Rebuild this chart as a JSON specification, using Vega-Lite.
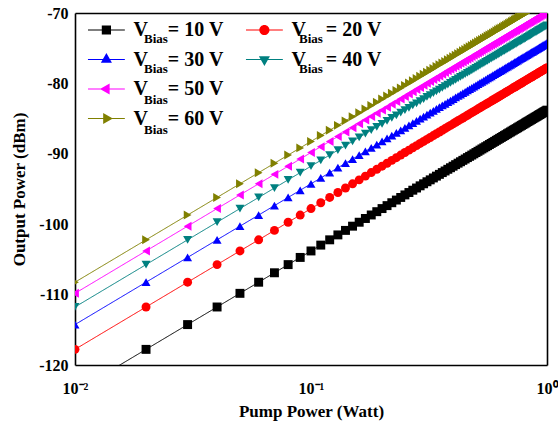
{
  "$schema": "https://vega.github.io/schema/vega-lite/v6.json",
  "width": 472,
  "height": 352,
  "autosize": {"type": "none"},
  "padding": {"left": 75, "top": 13, "right": 11, "bottom": 61},
  "background": "white",
  "config": {
    "view": {"stroke": null},
    "font": "Liberation Serif",
    "axis": {
      "domainColor": "black", "domainWidth": 1.6,
      "tickColor": "black", "tickWidth": 1.5, "tickSize": 0,
      "labelColor": "black", "labelFont": "Liberation Serif", "labelFontWeight": "bold", "labelFontSize": 16,
      "titleColor": "black", "titleFont": "Liberation Serif", "titleFontWeight": "bold", "titleFontSize": 17,
      "grid": false, "labelFlush": false, "labelOverlap": false
    },
    "legend": {"labelColor": "black", "labelFont": "Liberation Serif", "labelFontWeight": "bold", "padding": 0, "title": null, "labelLimit": 0, "direction": "horizontal"}
  },
  "data": {"values": [
    {"P":0.01,"10 V":-123.8,"20 V":-117.78,"30 V":-114.26,"40 V":-111.76,"50 V":-109.82,"60 V":-108.24},
    {"P":0.02,"10 V":-117.78,"20 V":-111.76,"30 V":-108.24,"40 V":-105.74,"50 V":-103.8,"60 V":-102.22},
    {"P":0.03,"10 V":-114.26,"20 V":-108.24,"30 V":-104.72,"40 V":-102.22,"50 V":-100.28,"60 V":-98.7},
    {"P":0.04,"10 V":-111.76,"20 V":-105.74,"30 V":-102.22,"40 V":-99.72,"50 V":-97.78,"60 V":-96.2},
    {"P":0.05,"10 V":-109.82,"20 V":-103.8,"30 V":-100.28,"40 V":-97.78,"50 V":-95.84,"60 V":-94.26},
    {"P":0.06,"10 V":-108.24,"20 V":-102.22,"30 V":-98.7,"40 V":-96.2,"50 V":-94.26,"60 V":-92.68},
    {"P":0.07,"10 V":-106.9,"20 V":-100.88,"30 V":-97.36,"40 V":-94.86,"50 V":-92.92,"60 V":-91.34},
    {"P":0.08,"10 V":-105.74,"20 V":-99.72,"30 V":-96.2,"40 V":-93.7,"50 V":-91.76,"60 V":-90.18},
    {"P":0.09,"10 V":-104.72,"20 V":-98.7,"30 V":-95.18,"40 V":-92.68,"50 V":-90.74,"60 V":-89.16},
    {"P":0.10,"10 V":-103.8,"20 V":-97.78,"30 V":-94.26,"40 V":-91.76,"50 V":-89.82,"60 V":-88.24},
    {"P":0.11,"10 V":-102.97,"20 V":-96.95,"30 V":-93.43,"40 V":-90.93,"50 V":-88.99,"60 V":-87.41},
    {"P":0.12,"10 V":-102.22,"20 V":-96.2,"30 V":-92.68,"40 V":-90.18,"50 V":-88.24,"60 V":-86.66},
    {"P":0.13,"10 V":-101.52,"20 V":-95.5,"30 V":-91.98,"40 V":-89.48,"50 V":-87.54,"60 V":-85.96},
    {"P":0.14,"10 V":-100.88,"20 V":-94.86,"30 V":-91.34,"40 V":-88.84,"50 V":-86.9,"60 V":-85.32},
    {"P":0.15,"10 V":-100.28,"20 V":-94.26,"30 V":-90.74,"40 V":-88.24,"50 V":-86.3,"60 V":-84.72},
    {"P":0.16,"10 V":-99.72,"20 V":-93.7,"30 V":-90.18,"40 V":-87.68,"50 V":-85.74,"60 V":-84.16},
    {"P":0.17,"10 V":-99.19,"20 V":-93.17,"30 V":-89.65,"40 V":-87.15,"50 V":-85.21,"60 V":-83.63},
    {"P":0.18,"10 V":-98.69,"20 V":-92.67,"30 V":-89.15,"40 V":-86.65,"50 V":-84.71,"60 V":-83.13},
    {"P":0.19,"10 V":-98.22,"20 V":-92.2,"30 V":-88.68,"40 V":-86.18,"50 V":-84.24,"60 V":-82.66},
    {"P":0.20,"10 V":-97.78,"20 V":-91.76,"30 V":-88.24,"40 V":-85.74,"50 V":-83.8,"60 V":-82.22},
    {"P":0.21,"10 V":-97.36,"20 V":-91.34,"30 V":-87.82,"40 V":-85.32,"50 V":-83.38,"60 V":-81.8},
    {"P":0.22,"10 V":-96.95,"20 V":-90.93,"30 V":-87.41,"40 V":-84.91,"50 V":-82.97,"60 V":-81.39},
    {"P":0.23,"10 V":-96.57,"20 V":-90.55,"30 V":-87.03,"40 V":-84.53,"50 V":-82.59,"60 V":-81.01},
    {"P":0.24,"10 V":-96.2,"20 V":-90.18,"30 V":-86.66,"40 V":-84.16,"50 V":-82.22,"60 V":-80.64},
    {"P":0.25,"10 V":-95.84,"20 V":-89.82,"30 V":-86.3,"40 V":-83.8,"50 V":-81.86,"60 V":-80.28},
    {"P":0.26,"10 V":-95.5,"20 V":-89.48,"30 V":-85.96,"40 V":-83.46,"50 V":-81.52,"60 V":-79.94},
    {"P":0.27,"10 V":-95.17,"20 V":-89.15,"30 V":-85.63,"40 V":-83.13,"50 V":-81.19,"60 V":-79.61},
    {"P":0.28,"10 V":-94.86,"20 V":-88.84,"30 V":-85.32,"40 V":-82.82,"50 V":-80.88,"60 V":-79.3},
    {"P":0.29,"10 V":-94.55,"20 V":-88.53,"30 V":-85.01,"40 V":-82.51,"50 V":-80.57,"60 V":-78.99},
    {"P":0.30,"10 V":-94.26,"20 V":-88.24,"30 V":-84.72,"40 V":-82.22,"50 V":-80.28,"60 V":-78.7},
    {"P":0.31,"10 V":-93.97,"20 V":-87.95,"30 V":-84.43,"40 V":-81.93,"50 V":-79.99,"60 V":-78.41},
    {"P":0.32,"10 V":-93.7,"20 V":-87.68,"30 V":-84.16,"40 V":-81.66,"50 V":-79.72,"60 V":-78.14},
    {"P":0.33,"10 V":-93.43,"20 V":-87.41,"30 V":-83.89,"40 V":-81.39,"50 V":-79.45,"60 V":-77.87},
    {"P":0.34,"10 V":-93.17,"20 V":-87.15,"30 V":-83.63,"40 V":-81.13,"50 V":-79.19,"60 V":-77.61},
    {"P":0.35,"10 V":-92.92,"20 V":-86.9,"30 V":-83.38,"40 V":-80.88,"50 V":-78.94,"60 V":-77.36},
    {"P":0.36,"10 V":-92.67,"20 V":-86.65,"30 V":-83.13,"40 V":-80.63,"50 V":-78.69,"60 V":-77.11},
    {"P":0.37,"10 V":-92.44,"20 V":-86.42,"30 V":-82.9,"40 V":-80.4,"50 V":-78.46,"60 V":-76.88},
    {"P":0.38,"10 V":-92.2,"20 V":-86.18,"30 V":-82.66,"40 V":-80.16,"50 V":-78.22,"60 V":-76.64},
    {"P":0.39,"10 V":-91.98,"20 V":-85.96,"30 V":-82.44,"40 V":-79.94,"50 V":-78.0,"60 V":-76.42},
    {"P":0.40,"10 V":-91.76,"20 V":-85.74,"30 V":-82.22,"40 V":-79.72,"50 V":-77.78,"60 V":-76.2},
    {"P":0.41,"10 V":-91.54,"20 V":-85.52,"30 V":-82.0,"40 V":-79.5,"50 V":-77.56,"60 V":-75.98},
    {"P":0.42,"10 V":-91.33,"20 V":-85.31,"30 V":-81.79,"40 V":-79.29,"50 V":-77.35,"60 V":-75.77},
    {"P":0.43,"10 V":-91.13,"20 V":-85.11,"30 V":-81.59,"40 V":-79.09,"50 V":-77.15,"60 V":-75.57},
    {"P":0.44,"10 V":-90.93,"20 V":-84.91,"30 V":-81.39,"40 V":-78.89,"50 V":-76.95,"60 V":-75.37},
    {"P":0.45,"10 V":-90.74,"20 V":-84.72,"30 V":-81.2,"40 V":-78.7,"50 V":-76.76,"60 V":-75.18},
    {"P":0.46,"10 V":-90.54,"20 V":-84.52,"30 V":-81.0,"40 V":-78.5,"50 V":-76.56,"60 V":-74.98},
    {"P":0.47,"10 V":-90.36,"20 V":-84.34,"30 V":-80.82,"40 V":-78.32,"50 V":-76.38,"60 V":-74.8},
    {"P":0.48,"10 V":-90.18,"20 V":-84.16,"30 V":-80.64,"40 V":-78.14,"50 V":-76.2,"60 V":-74.62},
    {"P":0.49,"10 V":-90.0,"20 V":-83.98,"30 V":-80.46,"40 V":-77.96,"50 V":-76.02,"60 V":-74.44},
    {"P":0.50,"10 V":-89.82,"20 V":-83.8,"30 V":-80.28,"40 V":-77.78,"50 V":-75.84,"60 V":-74.26},
    {"P":0.51,"10 V":-89.65,"20 V":-83.63,"30 V":-80.11,"40 V":-77.61,"50 V":-75.67,"60 V":-74.09},
    {"P":0.52,"10 V":-89.48,"20 V":-83.46,"30 V":-79.94,"40 V":-77.44,"50 V":-75.5,"60 V":-73.92},
    {"P":0.53,"10 V":-89.31,"20 V":-83.29,"30 V":-79.77,"40 V":-77.27,"50 V":-75.33,"60 V":-73.75},
    {"P":0.54,"10 V":-89.15,"20 V":-83.13,"30 V":-79.61,"40 V":-77.11,"50 V":-75.17,"60 V":-73.59},
    {"P":0.55,"10 V":-88.99,"20 V":-82.97,"30 V":-79.45,"40 V":-76.95,"50 V":-75.01,"60 V":-73.43},
    {"P":0.56,"10 V":-88.84,"20 V":-82.82,"30 V":-79.3,"40 V":-76.8,"50 V":-74.86,"60 V":-73.28},
    {"P":0.57,"10 V":-88.68,"20 V":-82.66,"30 V":-79.14,"40 V":-76.64,"50 V":-74.7,"60 V":-73.12},
    {"P":0.58,"10 V":-88.53,"20 V":-82.51,"30 V":-78.99,"40 V":-76.49,"50 V":-74.55,"60 V":-72.97},
    {"P":0.59,"10 V":-88.38,"20 V":-82.36,"30 V":-78.84,"40 V":-76.34,"50 V":-74.4,"60 V":-72.82},
    {"P":0.60,"10 V":-88.24,"20 V":-82.22,"30 V":-78.7,"40 V":-76.2,"50 V":-74.26,"60 V":-72.68},
    {"P":0.61,"10 V":-88.09,"20 V":-82.07,"30 V":-78.55,"40 V":-76.05,"50 V":-74.11,"60 V":-72.53},
    {"P":0.62,"10 V":-87.95,"20 V":-81.93,"30 V":-78.41,"40 V":-75.91,"50 V":-73.97,"60 V":-72.39},
    {"P":0.63,"10 V":-87.81,"20 V":-81.79,"30 V":-78.27,"40 V":-75.77,"50 V":-73.83,"60 V":-72.25},
    {"P":0.64,"10 V":-87.68,"20 V":-81.66,"30 V":-78.14,"40 V":-75.64,"50 V":-73.7,"60 V":-72.12},
    {"P":0.65,"10 V":-87.54,"20 V":-81.52,"30 V":-78.0,"40 V":-75.5,"50 V":-73.56,"60 V":-71.98},
    {"P":0.66,"10 V":-87.41,"20 V":-81.39,"30 V":-77.87,"40 V":-75.37,"50 V":-73.43,"60 V":-71.85},
    {"P":0.67,"10 V":-87.28,"20 V":-81.26,"30 V":-77.74,"40 V":-75.24,"50 V":-73.3,"60 V":-71.72},
    {"P":0.68,"10 V":-87.15,"20 V":-81.13,"30 V":-77.61,"40 V":-75.11,"50 V":-73.17,"60 V":-71.59},
    {"P":0.69,"10 V":-87.02,"20 V":-81.0,"30 V":-77.48,"40 V":-74.98,"50 V":-73.04,"60 V":-71.46},
    {"P":0.70,"10 V":-86.9,"20 V":-80.88,"30 V":-77.36,"40 V":-74.86,"50 V":-72.92,"60 V":-71.34},
    {"P":0.71,"10 V":-86.77,"20 V":-80.75,"30 V":-77.23,"40 V":-74.73,"50 V":-72.79,"60 V":-71.21},
    {"P":0.72,"10 V":-86.65,"20 V":-80.63,"30 V":-77.11,"40 V":-74.61,"50 V":-72.67,"60 V":-71.09},
    {"P":0.73,"10 V":-86.53,"20 V":-80.51,"30 V":-76.99,"40 V":-74.49,"50 V":-72.55,"60 V":-70.97},
    {"P":0.74,"10 V":-86.42,"20 V":-80.4,"30 V":-76.88,"40 V":-74.38,"50 V":-72.44,"60 V":-70.86},
    {"P":0.75,"10 V":-86.3,"20 V":-80.28,"30 V":-76.76,"40 V":-74.26,"50 V":-72.32,"60 V":-70.74},
    {"P":0.76,"10 V":-86.18,"20 V":-80.16,"30 V":-76.64,"40 V":-74.14,"50 V":-72.2,"60 V":-70.62},
    {"P":0.77,"10 V":-86.07,"20 V":-80.05,"30 V":-76.53,"40 V":-74.03,"50 V":-72.09,"60 V":-70.51},
    {"P":0.78,"10 V":-85.96,"20 V":-79.94,"30 V":-76.42,"40 V":-73.92,"50 V":-71.98,"60 V":-70.4},
    {"P":0.79,"10 V":-85.85,"20 V":-79.83,"30 V":-76.31,"40 V":-73.81,"50 V":-71.87,"60 V":-70.29},
    {"P":0.80,"10 V":-85.74,"20 V":-79.72,"30 V":-76.2,"40 V":-73.7,"50 V":-71.76,"60 V":-70.18},
    {"P":0.81,"10 V":-85.63,"20 V":-79.61,"30 V":-76.09,"40 V":-73.59,"50 V":-71.65,"60 V":-70.07},
    {"P":0.82,"10 V":-85.52,"20 V":-79.5,"30 V":-75.98,"40 V":-73.48,"50 V":-71.54,"60 V":-69.96},
    {"P":0.83,"10 V":-85.42,"20 V":-79.4,"30 V":-75.88,"40 V":-73.38,"50 V":-71.44,"60 V":-69.86},
    {"P":0.84,"10 V":-85.31,"20 V":-79.29,"30 V":-75.77,"40 V":-73.27,"50 V":-71.33,"60 V":-69.75},
    {"P":0.85,"10 V":-85.21,"20 V":-79.19,"30 V":-75.67,"40 V":-73.17,"50 V":-71.23,"60 V":-69.65},
    {"P":0.86,"10 V":-85.11,"20 V":-79.09,"30 V":-75.57,"40 V":-73.07,"50 V":-71.13,"60 V":-69.55},
    {"P":0.87,"10 V":-85.01,"20 V":-78.99,"30 V":-75.47,"40 V":-72.97,"50 V":-71.03,"60 V":-69.45},
    {"P":0.88,"10 V":-84.91,"20 V":-78.89,"30 V":-75.37,"40 V":-72.87,"50 V":-70.93,"60 V":-69.35},
    {"P":0.89,"10 V":-84.81,"20 V":-78.79,"30 V":-75.27,"40 V":-72.77,"50 V":-70.83,"60 V":-69.25},
    {"P":0.90,"10 V":-84.72,"20 V":-78.7,"30 V":-75.18,"40 V":-72.68,"50 V":-70.74,"60 V":-69.16},
    {"P":0.91,"10 V":-84.62,"20 V":-78.6,"30 V":-75.08,"40 V":-72.58,"50 V":-70.64,"60 V":-69.06},
    {"P":0.92,"10 V":-84.52,"20 V":-78.5,"30 V":-74.98,"40 V":-72.48,"50 V":-70.54,"60 V":-68.96},
    {"P":0.93,"10 V":-84.43,"20 V":-78.41,"30 V":-74.89,"40 V":-72.39,"50 V":-70.45,"60 V":-68.87},
    {"P":0.94,"10 V":-84.34,"20 V":-78.32,"30 V":-74.8,"40 V":-72.3,"50 V":-70.36,"60 V":-68.78},
    {"P":0.95,"10 V":-84.25,"20 V":-78.23,"30 V":-74.71,"40 V":-72.21,"50 V":-70.27,"60 V":-68.69},
    {"P":0.96,"10 V":-84.15,"20 V":-78.13,"30 V":-74.61,"40 V":-72.11,"50 V":-70.17,"60 V":-68.59},
    {"P":0.97,"10 V":-84.06,"20 V":-78.04,"30 V":-74.52,"40 V":-72.02,"50 V":-70.08,"60 V":-68.5},
    {"P":0.98,"10 V":-83.98,"20 V":-77.96,"30 V":-74.44,"40 V":-71.94,"50 V":-70.0,"60 V":-68.42},
    {"P":0.99,"10 V":-83.89,"20 V":-77.87,"30 V":-74.35,"40 V":-71.85,"50 V":-69.91,"60 V":-68.33},
    {"P":1.00,"10 V":-83.8,"20 V":-77.78,"30 V":-74.26,"40 V":-71.76,"50 V":-69.82,"60 V":-68.24}
  ]},
  "transform": [
    {"fold": ["10 V", "20 V", "30 V", "40 V", "50 V", "60 V"], "as": ["series", "power"]}
  ],
  "layer": [
    {
      "mark": {"type": "line", "clip": true, "strokeWidth": 1},
      "encoding": {
        "x": {
          "field": "P", "type": "quantitative",
          "scale": {"type": "log", "domain": [0.01, 1], "nice": false},
          "axis": {
            "orient": "bottom",
            "values": [0.01, 0.02, 0.03, 0.04, 0.05, 0.06, 0.07, 0.08, 0.09, 0.1, 0.2, 0.3, 0.4, 0.5, 0.6, 0.7, 0.8, 0.9, 1],
            "labelExpr": "datum.value == 0.01 ? '10⁻²' : datum.value == 0.1 ? '10⁻¹' : datum.value == 1 ? '10⁰' : ''",
            "labelPadding": 15,
            "title": "Pump Power (Watt)",
            "titleY": 51, "titleBaseline": "alphabetic",
            "encode": {"ticks": {"y2": {"value": {"expr": "(datum.value == 0.01 || datum.value == 0.1 || datum.value == 1) ? -7 : -4"}}}}
          }
        },
        "y": {
          "field": "power", "type": "quantitative",
          "scale": {"domain": [-120, -70], "nice": false, "zero": false},
          "axis": {
            "orient": "left",
            "values": [-120, -118.889, -117.778, -116.667, -115.556, -114.444, -113.333, -112.222, -111.111,
                       -110, -108.889, -107.778, -106.667, -105.556, -104.444, -103.333, -102.222, -101.111,
                       -100, -98.889, -97.778, -96.667, -95.556, -94.444, -93.333, -92.222, -91.111,
                       -90, -88.889, -87.778, -86.667, -85.556, -84.444, -83.333, -82.222, -81.111,
                       -80, -78.889, -77.778, -76.667, -75.556, -74.444, -73.333, -72.222, -71.111, -70],
            "labelExpr": "datum.value % 10 == 0 ? '-' + (-datum.value) : ''",
            "labelPadding": 7,
            "title": "Output Power (dBm)",
            "titleX": -51, "titleY": 176, "titleBaseline": "alphabetic", "titleAngle": -90,
            "encode": {"ticks": {"x2": {"value": {"expr": "datum.value % 10 == 0 ? 7 : 4"}}}}
          }
        },
        "color": {
          "field": "series", "type": "nominal",
          "scale": {"domain": ["10 V", "20 V", "30 V", "40 V", "50 V", "60 V"],
                    "range": ["#000000", "#ff0000", "#0000ff", "#008080", "#ff00ff", "#808000"]},
          "legend": null
        },
        "strokeDash": {
          "field": "series", "type": "nominal",
          "scale": {"domain": ["10 V", "20 V", "30 V", "40 V", "50 V", "gap2", "60 V"],
                    "range": [[1, 0], [1, 0], [1, 0], [1, 0], [1, 0], [1, 0], [1, 0]]},
          "legend": {
            "orient": "none", "legendX": 56, "legendY": 19, "columns": 2, "columnPadding": 118, "rowPadding": 16.5,
            "symbolSize": 1, "symbolOffset": 0, "labelOffset": 0, "symbolOpacity": 0, "symbolStrokeWidth": 0,
            "labelFontSize": 13,
            "labelExpr": "datum.value == 'gap2' ? '' : 'Bias'"
          }
        }
      }
    },
    {
      "mark": {"type": "point", "clip": true, "filled": true, "size": 80, "opacity": 1},
      "encoding": {
        "x": {
          "field": "P", "type": "quantitative",
          "scale": {"type": "log", "domain": [0.01, 1], "nice": false},
          "axis": {
            "orient": "top", "labels": false, "title": null,
            "values": [0.01, 0.02, 0.03, 0.04, 0.05, 0.06, 0.07, 0.08, 0.09, 0.1, 0.2, 0.3, 0.4, 0.5, 0.6, 0.7, 0.8, 0.9, 1],
            "encode": {"ticks": {"y2": {"value": {"expr": "(datum.value == 0.01 || datum.value == 0.1 || datum.value == 1) ? 7 : 4"}}}}
          }
        },
        "y": {
          "field": "power", "type": "quantitative",
          "scale": {"domain": [-120, -70], "nice": false, "zero": false},
          "axis": {
            "orient": "right", "labels": false, "title": null,
            "values": [-120, -118.889, -117.778, -116.667, -115.556, -114.444, -113.333, -112.222, -111.111,
                       -110, -108.889, -107.778, -106.667, -105.556, -104.444, -103.333, -102.222, -101.111,
                       -100, -98.889, -97.778, -96.667, -95.556, -94.444, -93.333, -92.222, -91.111,
                       -90, -88.889, -87.778, -86.667, -85.556, -84.444, -83.333, -82.222, -81.111,
                       -80, -78.889, -77.778, -76.667, -75.556, -74.444, -73.333, -72.222, -71.111, -70],
            "encode": {"ticks": {"x2": {"value": {"expr": "datum.value % 10 == 0 ? -7 : -4"}}}}
          }
        },
        "color": {
          "field": "series", "type": "nominal",
          "scale": {"domain": ["10 V", "20 V", "30 V", "40 V", "50 V", "60 V"],
                    "range": ["#000000", "#ff0000", "#0000ff", "#008080", "#ff00ff", "#808000"]},
          "legend": null
        },
        "shape": {
          "field": "series", "type": "nominal",
          "scale": {"domain": ["10 V", "20 V", "30 V", "40 V", "50 V", "60 V"],
                    "range": ["square", "circle", "triangle-up", "triangle-down", "triangle-left", "triangle-right"]},
          "legend": null
        }
      }
    },
    {
      "mark": {"type": "point", "filled": true, "opacity": 0, "size": 85},
      "encoding": {
        "x": {"field": "P", "type": "quantitative", "scale": {"type": "log", "domain": [0.01, 1], "nice": false}, "axis": null},
        "y": {"field": "power", "type": "quantitative", "scale": {"domain": [-120, -70], "nice": false, "zero": false}, "axis": null},
        "fill": {
          "field": "series", "type": "nominal",
          "scale": {"domain": ["10 V", "20 V", "30 V", "40 V", "50 V", "gap", "60 V"],
                    "range": ["#000000", "#ff0000", "#0000ff", "#008080", "#ff00ff", "#ffffff", "#808000"]},
          "legend": {
            "orient": "none", "legendX": 13, "legendY": 7, "columns": 2, "columnPadding": 21, "rowPadding": 9.5,
            "symbolSize": 85, "symbolOffset": 8.4, "labelOffset": 17, "labelFontSize": 20,
            "symbolOpacity": 1, "symbolStrokeWidth": 0,
            "labelExpr": "datum.value == 'gap' ? '' : 'V\u2003= ' + datum.label"
          }
        },
        "shape": {
          "field": "series", "type": "nominal",
          "scale": {"domain": ["10 V", "20 V", "30 V", "40 V", "50 V", "gap", "60 V"],
                    "range": [
                      "M-4,-0.11H4V0.11H-4ZM-1,-1H1V1H-1Z",
                      "M-4,-0.11H4V0.11H-4ZM1.1,0A1.1,1.1,0,1,1,-1.1,0A1.1,1.1,0,1,1,1.1,0Z",
                      "M-4,-0.11H4V0.11H-4ZM-1.2,0.7L0,-1.4L1.2,0.7Z",
                      "M-4,-0.11H4V0.11H-4ZM-1.2,-0.7L1.2,-0.7L0,1.4Z",
                      "M-4,-0.11H4V0.11H-4ZM0.7,-1.2L0.7,1.2L-1.4,0Z",
                      "circle",
                      "M-4,-0.11H4V0.11H-4ZM-0.7,-1.2L1.4,0L-0.7,1.2Z"
                    ]},
          "legend": {
            "orient": "none", "legendX": 13, "legendY": 7, "columns": 2, "columnPadding": 21, "rowPadding": 9.5,
            "symbolSize": 85, "symbolOffset": 8.4, "labelOffset": 17, "labelFontSize": 20,
            "symbolOpacity": 1, "symbolStrokeWidth": 0,
            "labelExpr": "datum.value == 'gap' ? '' : 'V\u2003= ' + datum.label"
          }
        }
      }
    }
  ],
  "resolve": {
    "axis": {"x": "independent", "y": "independent"},
    "scale": {"shape": "independent", "fill": "independent"}
  }
}
